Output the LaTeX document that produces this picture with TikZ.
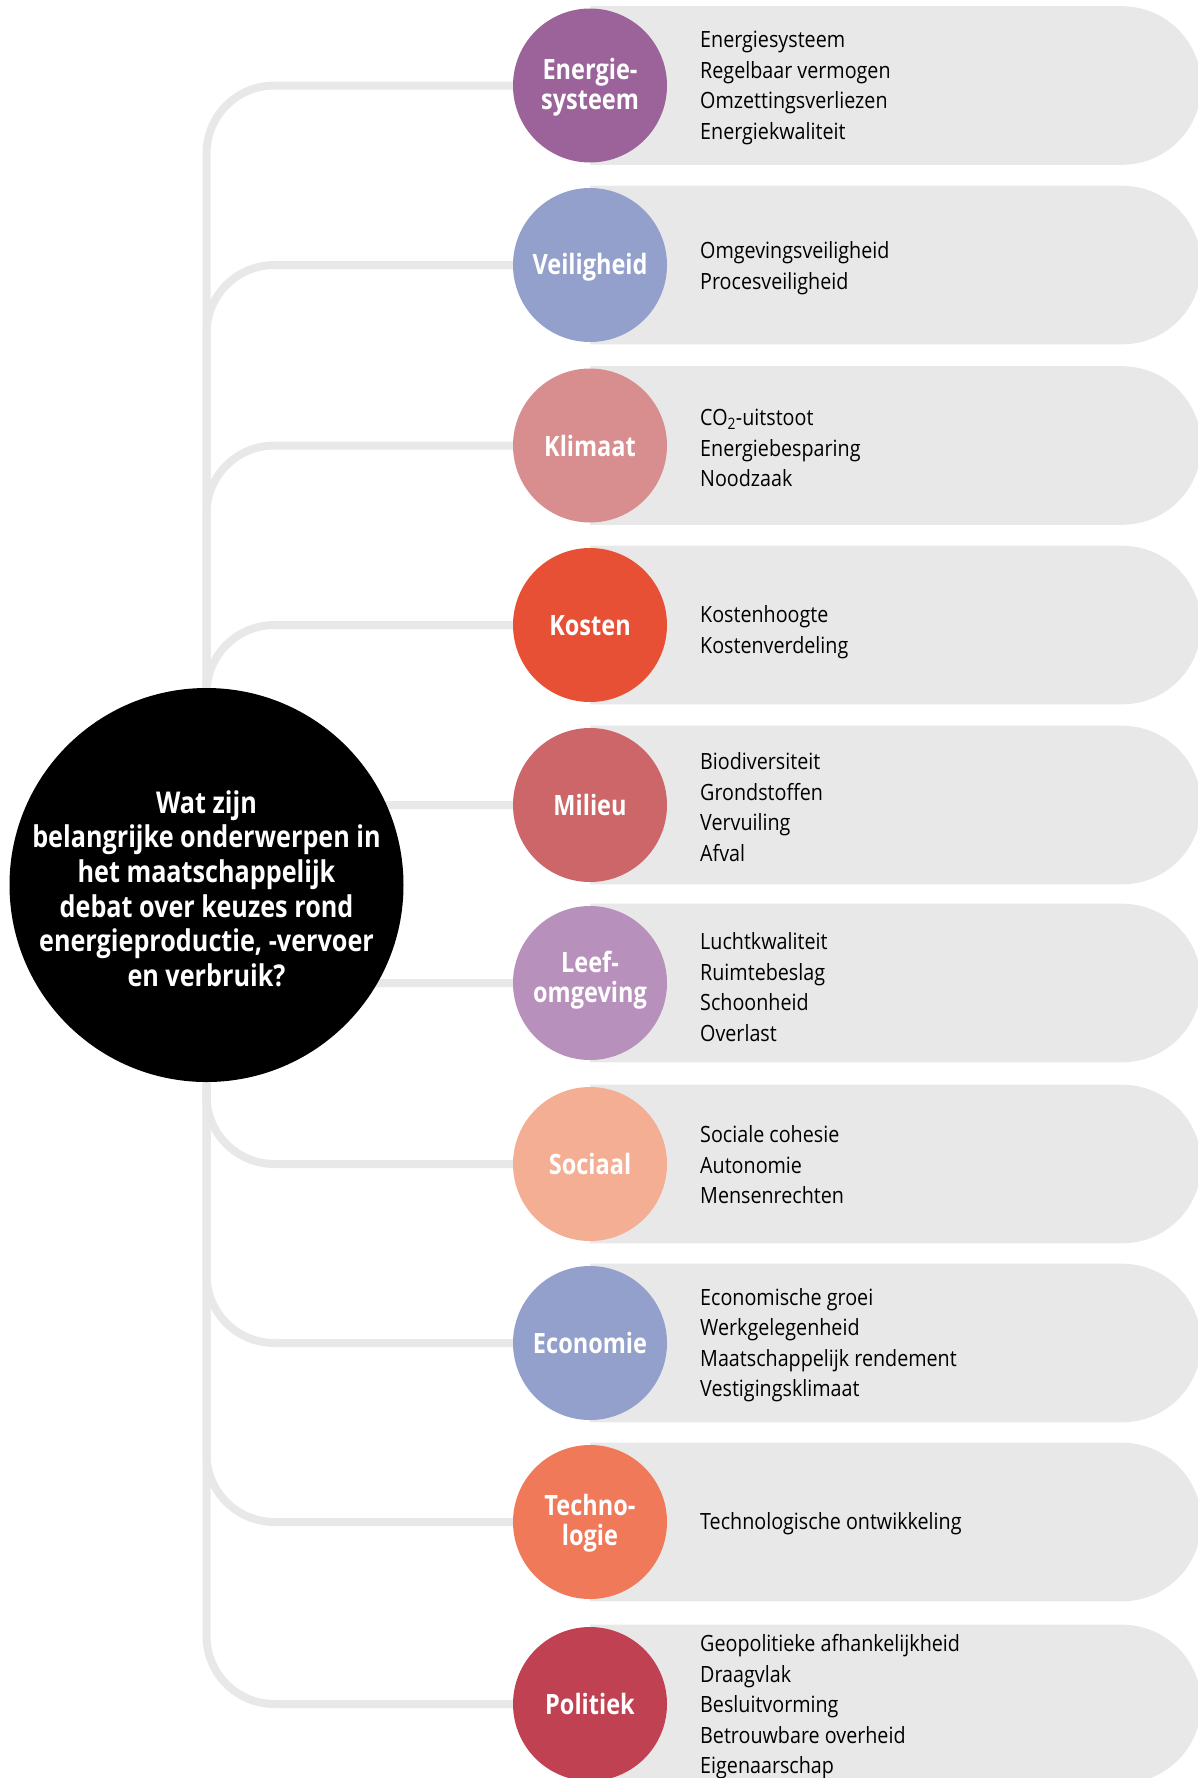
\documentclass[tikz,border=0pt]{standalone}
\usepackage{fontspec}
\setmainfont{Open Sans}[FakeStretch=0.88,BoldFeatures={FakeStretch=0.84}]
\usetikzlibrary{backgrounds}
\definecolor{linegray}{HTML}{E8E8E8}
\definecolor{pillgray}{HTML}{E8E8E8}
\definecolor{cEnergie}{HTML}{9B6399}
\definecolor{cVeilig}{HTML}{94A0CC}
\definecolor{cKlimaat}{HTML}{D88D8E}
\definecolor{cKosten}{HTML}{E85036}
\definecolor{cMilieu}{HTML}{CC6668}
\definecolor{cLeef}{HTML}{B791BC}
\definecolor{cSociaal}{HTML}{F4AE94}
\definecolor{cEconomie}{HTML}{94A0CC}
\definecolor{cTechno}{HTML}{EF7959}
\definecolor{cPolitiek}{HTML}{C04152}
\newcommand{\myitemfont}{\fontsize{22.4}{30.5}\selectfont}
\newcommand{\mytopicfont}{\fontsize{28}{30}\selectfont\bfseries}
\newcommand{\myqfont}{\fontsize{30}{34.6}\selectfont\bfseries}
\begin{document}
\begin{tikzpicture}[x=1pt,y=-1pt,
  link/.style={draw=linegray, line width=8pt, rounded corners=68pt},
  pillshape/.style={fill=pillgray},
  topic/.style={circle, minimum size=154pt, inner sep=-10pt, text=white, font=\mytopicfont, align=center},
  items/.style={anchor=west, inner sep=0pt, align=left, font=\myitemfont, text=black},
  question/.style={circle, fill=black, minimum size=394pt, inner sep=-40pt, text=white, font=\myqfont, align=center}
]
\clip (0,0) rectangle (1197,1778);

% central question
\node[question] (q) at (206.5,885) {\rule{0pt}{30pt}Wat zijn\\belangrijke onderwerpen in\\het maatschappelijk\\debat over keuzes rond\\energieproductie, -vervoer\\en verbruik?};

% topic circles
\node[topic, fill=cEnergie]  (t1)  at (590,85.5)  {\rule{0pt}{25pt}Energie-\\systeem};
\node[topic, fill=cVeilig]   (t2)  at (590,265)   {\rule{0pt}{26pt}Veiligheid};
\node[topic, fill=cKlimaat]  (t3)  at (590,445.5) {Klimaat};
\node[topic, fill=cKosten]   (t4)  at (590,625)   {\rule{0pt}{21pt}Kosten};
\node[topic, fill=cMilieu]   (t5)  at (590,805)   {Milieu};
\node[topic, fill=cLeef]     (t6)  at (590,983)   {Leef-\\omgeving\rule[-12pt]{0pt}{0pt}};
\node[topic, fill=cSociaal]  (t7)  at (590,1164)  {Sociaal};
\node[topic, fill=cEconomie] (t8)  at (590,1343)  {Economie};
\node[topic, fill=cTechno]   (t9)  at (590,1522)  {\rule{0pt}{24pt}Techno-\\logie};
\node[topic, fill=cPolitiek] (t10) at (590,1704)  {Politiek};

% item lists
\node[items] (l1)  at (700,88)     {Energiesysteem\\Regelbaar vermogen\\Omzettingsverliezen\\Energiekwaliteit};
\node[items] (l2)  at (700,268)    {Omgevingsveiligheid\\Procesveiligheid};
\node[items] (l3)  at (700,448)    {CO\textsubscript{2}-uitstoot\\Energiebesparing\\Noodzaak};
\node[items] (l4)  at (700,632)    {Kostenhoogte\\Kostenverdeling};
\node[items] (l5)  at (700,807)    {Biodiversiteit\\Grondstoffen\\Vervuiling\\Afval};
\node[items] (l6)  at (700,987)    {Luchtkwaliteit\\Ruimtebeslag\\Schoonheid\\Overlast};
\node[items] (l7)  at (700,1165)   {Sociale cohesie\\Autonomie\\Mensenrechten};
\node[items] (l8)  at (700,1345)   {Economische groei\\Werkgelegenheid\\Maatschappelijk rendement\\Vestigingsklimaat};
\node[items] (l9)  at (700,1524)   {Technologische ontwikkeling};
\node[items] (l10) at (700,1707)   {Geopolitieke afhankelijkheid\\Draagvlak\\Besluitvorming\\Betrouwbare overheid\\Eigenaarschap};

\begin{scope}[on background layer]
  % pills
  \foreach \c in {85.5,265,445.5,625,805,983,1164,1343,1522,1704}{
    \fill[pillshape] (590,\c-79.3) -- (1122,\c-79.3)
      arc[start angle=-90, end angle=90, radius=79.3] -- (590,\c+79.3) -- cycle;
  }
  % connectors
  \foreach \t in {t1,t2,t3,t4,t5,t6,t7,t8,t9,t10}{
    \draw[link] (\t.center) -| (q.center);
  }
\end{scope}
\end{tikzpicture}
\end{document}
